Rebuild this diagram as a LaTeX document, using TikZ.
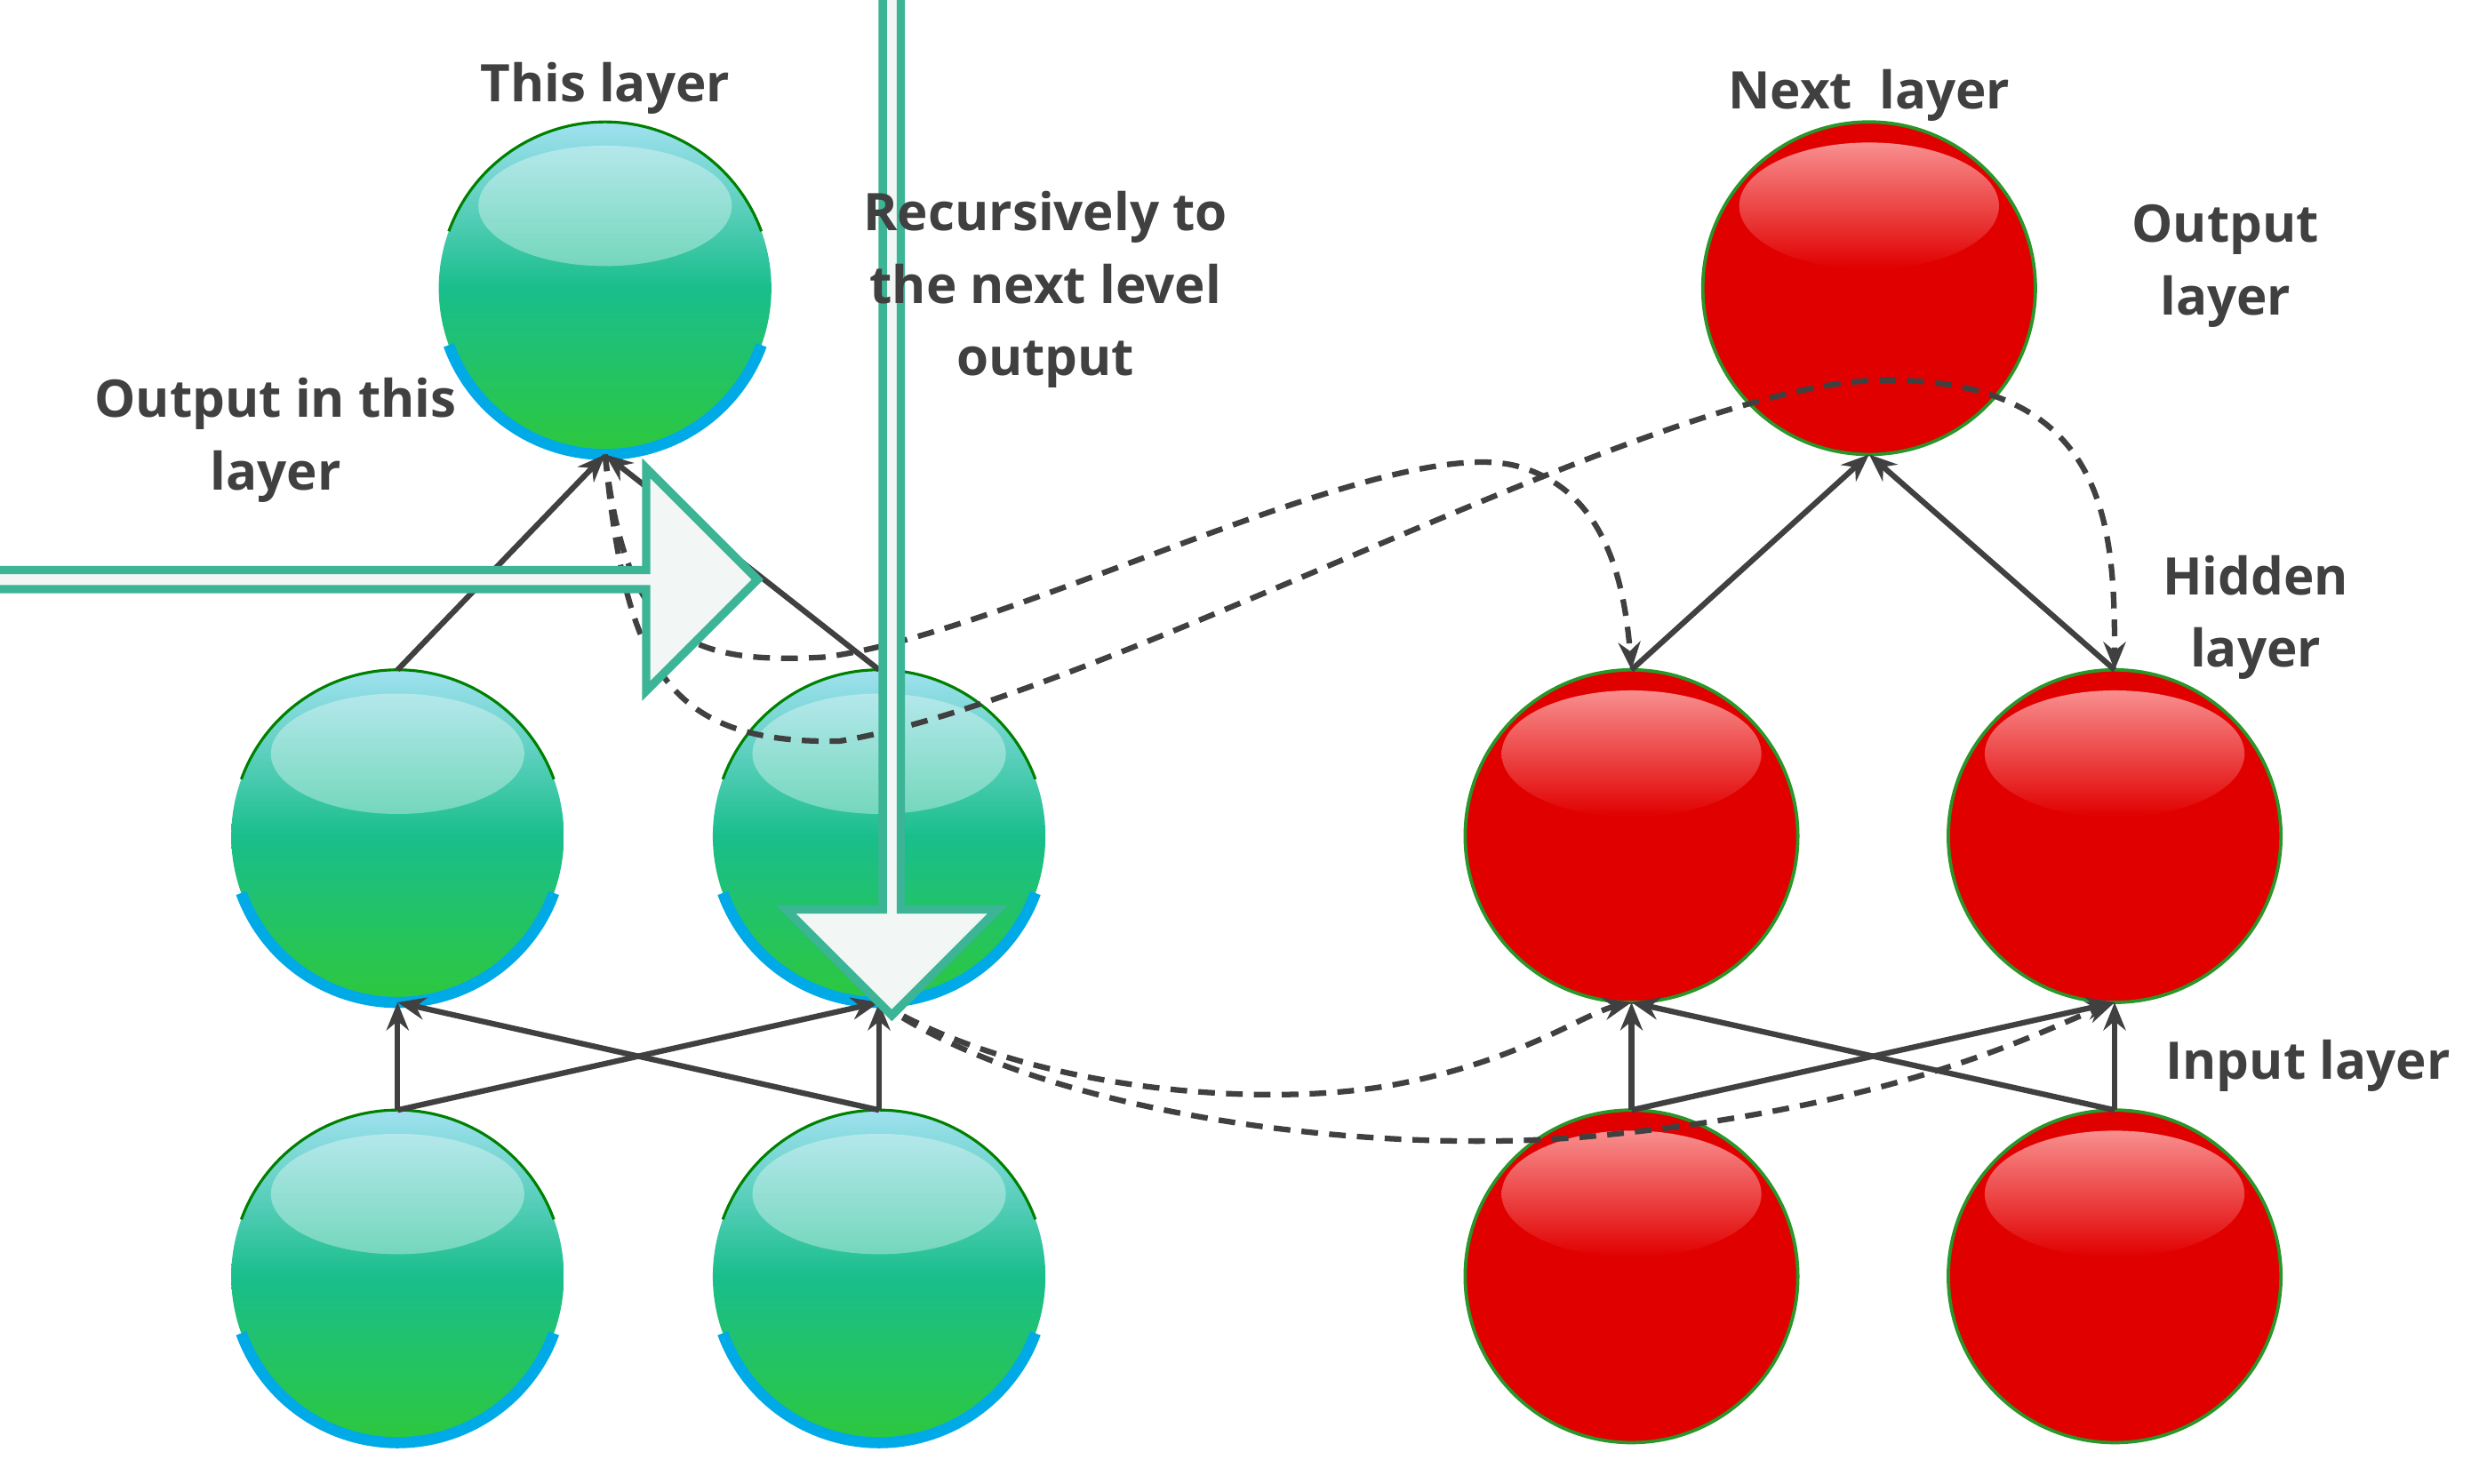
\documentclass[tikz,border=0pt]{standalone}
\usepackage{fontspec}
\setmainfont{Open Sans}
\usetikzlibrary{arrows.meta,shapes.arrows}
\definecolor{txt}{RGB}{64,64,64}
\definecolor{ln}{RGB}{64,64,64}
\definecolor{tealc}{RGB}{60,180,150}
\definecolor{gtop}{RGB}{160,225,240}
\definecolor{gmid}{RGB}{25,190,140}
\definecolor{gbot}{RGB}{45,200,60}
\definecolor{rim}{RGB}{0,170,230}
\definecolor{rred}{RGB}{225,0,0}
\definecolor{rrim}{RGB}{40,150,40}
\definecolor{afill}{RGB}{242,246,244}
\begin{document}
\begin{tikzpicture}[x=0.01cm,y=-0.01cm,
  lab/.style={font=\bfseries\fontsize{9.3}{13}\selectfont,text=txt,align=center},
  con/.style={draw=ln,line width=1pt,-{Stealth[length=5pt,width=4pt]}},
  dsh/.style={draw=ln,line width=1pt,dash pattern=on 3pt off 2pt,-{Stealth[length=5pt,width=4pt]}}]
\useasboundingbox (0,0) rectangle (1560,937);
\newcommand{\gball}[3]{%
  \shade[top color=gtop,bottom color=gbot,middle color=gmid] (#1,#2) circle (105);
  \draw[line width=2pt,rim] (#1,#2) ++(160:105) arc (160:20:105);
  \draw[line width=0.5pt,green!50!black] (#1,#2) ++(200:105) arc (200:340:105);
  \fill[white,opacity=0.35] (#1,#2-52) ellipse (80 and 38);
  \coordinate (#3t) at (#1,#2-105); \coordinate (#3b) at (#1,#2+105);}
\newcommand{\rball}[3]{%
  \fill[rred] (#1,#2) circle (105);
  \draw[line width=0.6pt,rrim] (#1,#2) circle (105);
  \shade[top color=white!70!red,bottom color=rred,opacity=0.8] (#1,#2-52) ellipse (82 and 40);
  \coordinate (#3t) at (#1,#2-105); \coordinate (#3b) at (#1,#2+105);}
\gball{382}{182}{gT}
\gball{251}{528}{gA}\gball{555}{528}{gB}
\gball{251}{806}{gC}\gball{555}{806}{gD}
\rball{1180}{182}{rT}
\rball{1030}{528}{rA}\rball{1335}{528}{rB}
\rball{1030}{806}{rC}\rball{1335}{806}{rD}
\foreach \p in {g,r}{
  \draw[con] (\p Ct) -- (\p Ab); \draw[con] (\p Ct) -- (\p Bb);
  \draw[con] (\p Dt) -- (\p Ab); \draw[con] (\p Dt) -- (\p Bb);
  \draw[con] (\p At) -- (\p Tb); \draw[con] (\p Bt) -- (\p Tb);}
\draw[dsh] (gTb) .. controls (395,400) and (430,420) .. (520,415)
  .. controls (640,400) and (880,270) .. (960,295) .. controls (1010,310) and (1025,360) .. (rAt);
\draw[dsh] (gTb) .. controls (395,420) and (420,470) .. (530,468)
  .. controls (700,440) and (1050,240) .. (1190,240) .. controls (1330,240) and (1335,330) .. (rBt);
\draw[dsh] (gBb) .. controls (650,690) and (800,700) .. (880,685) .. controls (960,670) and (1000,640) .. (rAb);
\draw[dsh] (gBb) .. controls (650,700) and (850,730) .. (1000,718) .. controls (1200,700) and (1290,650) .. (rBb);
\node[single arrow,draw=tealc,fill=afill,line width=1.5pt,minimum height=185,single arrow head extend=8pt,minimum width=40,inner sep=0] (ha) at (150,366) {};
\node[single arrow,shape border rotate=270,draw=tealc,fill=afill,line width=1.5pt,minimum height=185,single arrow head extend=8pt,minimum width=38,inner sep=0] (va) at (563,313) {};
\node[lab] (l1) at (382,56) {This layer};
\node[lab] (l2) at (174,278) {Output in this\\layer};
\node[lab] (l3) at (660,183) {Recursively to\\the next level\\output};
\node[lab] (l4) at (1180,60) {Next~~layer};
\node[lab] (l5) at (1405,168) {Output\\layer};
\node[lab] (l6) at (1424,390) {Hidden\\layer};
\node[lab] (l7) at (1457,673) {Input layer};
\end{tikzpicture}
\end{document}
